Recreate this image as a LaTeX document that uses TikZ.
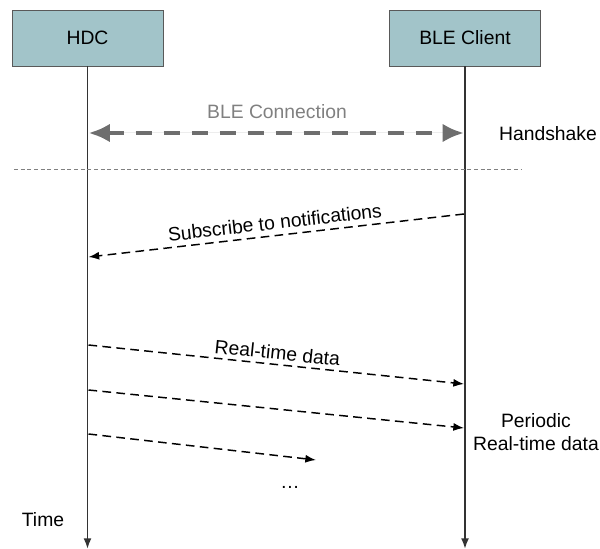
\documentclass[tikz,border=0pt]{standalone}
\usepackage{fontspec}
\setmainfont{Liberation Sans}
\usepackage{tikz}
\usetikzlibrary{arrows, arrows.meta}

\definecolor{boxfill}{HTML}{A2C4C9}
\definecolor{boxline}{HTML}{595959}
\definecolor{connline}{HTML}{6E6E6E}
\definecolor{conntext}{HTML}{808080}

\begin{document}
\begin{tikzpicture}[x=0.75pt, y=-0.75pt, font=\fontsize{14.5}{17}\selectfont]
	\tikzset{actor/.style = {draw=boxline, fill=boxfill, minimum width=113pt, minimum height=42pt, inner sep=0pt}}
	\tikzset{life/.style = {-{Latex[length=8pt, width=6pt]}, line width=1.4pt, draw=black!80}}
	\tikzset{msg/.style = {-{Latex[length=8pt, width=6pt]}, dash pattern=on 6.5pt off 4pt, line width=1.1pt}}
	\useasboundingbox (0, 0) rectangle (600, 549);
	\node[actor] (hdc) at (87.5, 38) {HDC};
	\node[actor] (ble) at (465, 38) {BLE Client};
	\coordinate (hdcend) at (87.5, 549);
	\coordinate (bleend) at (465, 549);
	\draw[life] (hdc) to (hdcend);
	\draw[life] (ble) to (bleend);
	% handshake
	\coordinate (conna) at (88.5, 133);
	\coordinate (connb) at (464, 133);
	\draw[{Latex[length=16pt, width=14pt]}-{Latex[length=16pt, width=14pt]}, line width=3.5pt, draw=connline, fill=connline, dash pattern=on 12pt off 9pt] (conna) to (connb);
	\node[text=conntext] (connlabel) at (277, 112) {BLE Connection};
	\node (hand) at (548, 134) {Handshake};
	\coordinate (sepa) at (14, 169);
	\coordinate (sepb) at (522, 169);
	\draw[gray, dash pattern=on 3pt off 2pt, line width=0.4pt] (sepa) to (sepb);
	% notifications
	\coordinate (suba) at (464, 214);
	\coordinate (subb) at (88.5, 257);
	\draw[msg] (suba) to node[above, sloped, pos=0.5, inner sep=4pt] (sublabel) {Subscribe to notifications} (subb);
	% data
	\coordinate (rta) at (88.5, 345);
	\coordinate (rtb) at (464, 384);
	\coordinate (rtc) at (88.5, 390);
	\coordinate (rtd) at (464, 428);
	\coordinate (rte) at (88.5, 434);
	\coordinate (rtf) at (316, 460);
	\draw[msg] (rta) to node[above, sloped, pos=0.5, inner sep=3pt] (rtlabel) {Real-time data} (rtb);
	\draw[msg] (rtc) to (rtd);
	\draw[msg] (rte) to (rtf);
	\node (dots) at (290, 487) {\dots};
	\node[align=center] (periodic) at (536, 432) {Periodic\\Real-time data};
	\node (time) at (43, 520) {Time};
\end{tikzpicture}
\end{document}
